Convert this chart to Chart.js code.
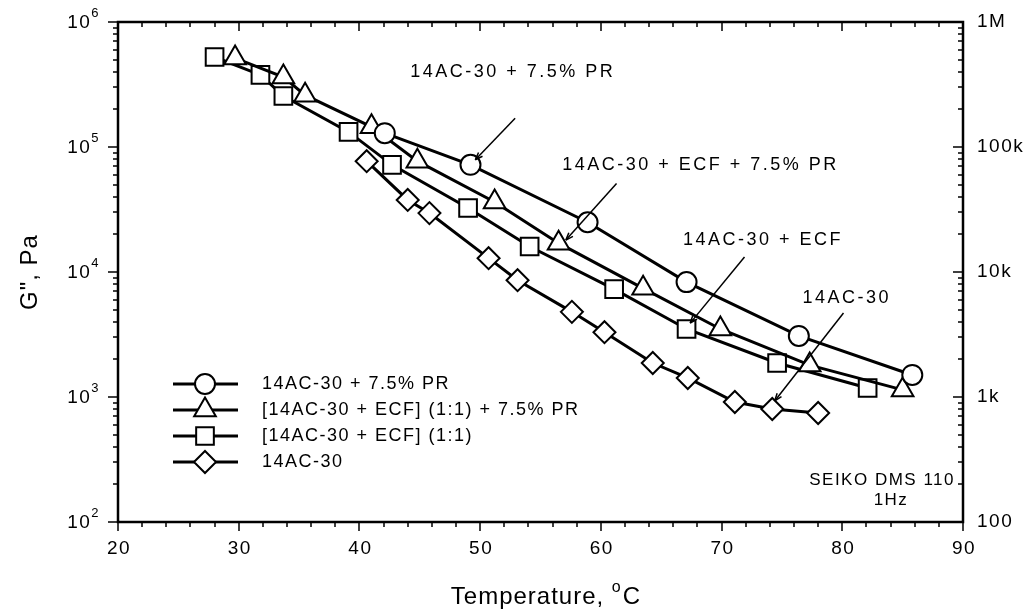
<!DOCTYPE html>
<html lang="en">
<head>
<meta charset="UTF-8">
<title>G'' vs Temperature</title>
<script src="https://cdn.jsdelivr.net/npm/chart.js@4"></script>
<style>
  html, body { margin: 0; padding: 0; background: #fff; }
</style>
</head>
<body>
<canvas id="chart" width="1036" height="613"></canvas>
<script>
// values: temperature (°C) vs G'' (Pa)
const prT   = [42.1, 49.2, 58.9, 67.1, 76.4, 85.8];
const prG   = [1.29e5, 7.2e4, 2.5e4, 8.3e3, 3.08e3, 1.5e3];

const ecfPrT = [29.7, 33.7, 35.5, 41.0, 44.8, 51.2, 56.5, 63.5, 69.9, 77.3, 85.0];
const ecfPrG = [5.15e5, 3.63e5, 2.6e5, 1.45e5, 7.7e4, 3.63e4, 1.7e4, 7.4e3, 3.5e3, 1.8e3, 1.14e3];

const ecfT = [28.0, 31.8, 33.7, 39.1, 42.7, 49.0, 54.1, 61.1, 67.1, 74.6, 82.1];
const ecfG = [5.25e5, 3.77e5, 2.56e5, 1.32e5, 7.2e4, 3.25e4, 1.6e4, 7.3e3, 3.5e3, 1.87e3, 1.18e3];

const baseT = [40.6, 44.0, 45.8, 50.7, 53.1, 57.6, 60.3, 64.3, 67.2, 71.1, 74.2, 78.0];
const baseG = [7.7e4, 3.77e4, 2.96e4, 1.29e4, 8.6e3, 4.8e3, 3.3e3, 1.87e3, 1.42e3, 912, 802, 745];

const seriesNames = [
  '14AC-30 + 7.5% PR',
  '[14AC-30 + ECF] (1:1) + 7.5% PR',
  '[14AC-30 + ECF] (1:1)',
  '14AC-30'
];
const xTicks = [20, 30, 40, 50, 60, 70, 80, 90];
const yExp = [2, 3, 4, 5, 6];
const rightLabels = ['100', '1k', '10k', '100k', '1M'];

// callouts: text, text anchor (T, G), arrow start (T, G), arrow end (T, G)
const notes = [
  { text: '14AC-30 + 7.5% PR',       at: [44.2, 4.0e5], from: [52.9, 1.7e5], to: [49.6, 7.9e4] },
  { text: '14AC-30 + ECF + 7.5% PR', at: [56.8, 7.2e4], from: [61.3, 5.1e4], to: [57.1, 1.8e4] },
  { text: '14AC-30 + ECF',           at: [66.8, 1.8e4], from: [71.9, 1.32e4], to: [67.4, 3.9e3] },
  { text: '14AC-30',                 at: [76.7, 6.2e3], from: [80.1, 4.7e3], to: [74.4, 930] }
];

function pts(xs, ys) { return xs.map((x, i) => ({ x: x, y: ys[i] })); }

const styles = [
  { pointStyle: 'circle',   pointRadius: 10 },
  { pointStyle: 'triangle', pointRadius: 12.5 },
  { pointStyle: 'rect',     pointRadius: 12.5 },
  { pointStyle: 'rectRot',  pointRadius: 11 }
];
const dataSets = [pts(prT, prG), pts(ecfPrT, ecfPrG), pts(ecfT, ecfG), pts(baseT, baseG)];

const FONT = '"Liberation Sans", Arial, sans-serif';

function arrow(ctx, x1, y1, x2, y2) {
  ctx.beginPath();
  ctx.moveTo(x1, y1);
  ctx.lineTo(x2, y2);
  ctx.stroke();
  const a = Math.atan2(y2 - y1, x2 - x1);
  const L = 8;
  ctx.beginPath();
  ctx.moveTo(x2, y2);
  ctx.lineTo(x2 - L * Math.cos(a - 0.35), y2 - L * Math.sin(a - 0.35));
  ctx.moveTo(x2, y2);
  ctx.lineTo(x2 - L * Math.cos(a + 0.35), y2 - L * Math.sin(a + 0.35));
  ctx.stroke();
}

const framePlugin = {
  id: 'frame',
  afterDraw(chart) {
    const ctx = chart.ctx;
    const xs = chart.scales.x, ys = chart.scales.y;
    const a = chart.chartArea;
    ctx.save();
    ctx.strokeStyle = '#000';
    ctx.fillStyle = '#000';
    ctx.lineWidth = 2.5;
    ctx.strokeRect(a.left, a.top, a.right - a.left, a.bottom - a.top);

    // x ticks: outward at bottom, inward at top
    ctx.lineWidth = 1.5;
    for (let v = 20; v <= 90; v += 2) {
      const px = Math.round(xs.getPixelForValue(v));
      const major = v % 10 === 0;
      const len = major ? 9 : 5;
      ctx.beginPath();
      ctx.moveTo(px, a.bottom); ctx.lineTo(px, a.bottom + len);
      ctx.moveTo(px, a.top); ctx.lineTo(px, a.top + len);
      ctx.stroke();
    }
    // y ticks: outward on left, inward on right
    for (let d = 2; d <= 6; d++) {
      for (let m = 1; m <= 9; m++) {
        if (d === 6 && m > 1) break;
        const py = Math.round(ys.getPixelForValue(m * Math.pow(10, d)));
        const len = m === 1 ? 10 : 5;
        ctx.beginPath();
        ctx.moveTo(a.left, py); ctx.lineTo(a.left - len, py);
        ctx.moveTo(a.right, py); ctx.lineTo(a.right - len, py);
        ctx.stroke();
      }
    }

    ctx.letterSpacing = '1.5px';
    // bottom labels
    ctx.font = '19px ' + FONT;
    ctx.textAlign = 'center';
    ctx.textBaseline = 'middle';
    xTicks.forEach(v => ctx.fillText(String(v), xs.getPixelForValue(v) + 1, a.bottom + 27));

    // left labels 10^n
    yExp.forEach(e => {
      const py = ys.getPixelForValue(Math.pow(10, e));
      ctx.font = '13px ' + FONT;
      const sw = ctx.measureText(String(e)).width;
      ctx.textAlign = 'right';
      ctx.fillText(String(e), a.left - 18, py - 9);
      ctx.font = '19px ' + FONT;
      ctx.fillText('10', a.left - 18 - sw, py + 1);
    });
    // right labels
    ctx.font = '19px ' + FONT;
    ctx.textAlign = 'left';
    rightLabels.forEach((t, i) => ctx.fillText(t, a.right + 14, ys.getPixelForValue(Math.pow(10, yExp[i]))));

    // axis titles
    ctx.letterSpacing = '1px';
    ctx.font = '24px ' + FONT;
    ctx.textAlign = 'center';
    ctx.save();
    ctx.translate(30, (a.top + a.bottom) / 2);
    ctx.rotate(-Math.PI / 2);
    ctx.fillText('G", Pa', 0, 0);
    ctx.restore();
    const tw = ctx.measureText('Temperature, C').width;
    const cx = (a.left + a.right) / 2;
    ctx.textAlign = 'left';
    ctx.fillText('Temperature, ', cx - tw / 2, 597);
    const w1 = ctx.measureText('Temperature, ').width;
    ctx.font = '16px ' + FONT;
    ctx.fillText('o', cx - tw / 2 + w1, 588);
    const w2 = ctx.measureText('o').width;
    ctx.font = '24px ' + FONT;
    ctx.fillText('C', cx - tw / 2 + w1 + w2 + 1, 597);

    // callouts
    ctx.font = '18px ' + FONT;
    ctx.letterSpacing = '2.5px';
    ctx.textAlign = 'left';
    ctx.lineWidth = 1.5;
    notes.forEach(n => {
      ctx.fillText(n.text, xs.getPixelForValue(n.at[0]), ys.getPixelForValue(n.at[1]));
      arrow(ctx, xs.getPixelForValue(n.from[0]), ys.getPixelForValue(n.from[1]),
                 xs.getPixelForValue(n.to[0]), ys.getPixelForValue(n.to[1]));
    });

    // instrument note
    ctx.font = '17px ' + FONT;
    ctx.letterSpacing = '1.5px';
    ctx.textAlign = 'right';
    ctx.fillText('SEIKO DMS 110', a.right - 8, 480);
    ctx.textAlign = 'center';
    ctx.fillText('1Hz', a.right - 72, 500);

    // legend
    ctx.letterSpacing = '1.5px';
    ctx.font = '18px ' + FONT;
    ctx.textAlign = 'left';
    const rows = [384, 410, 436, 462];
    rows.forEach((y, i) => {
      ctx.lineWidth = 3;
      ctx.strokeStyle = '#000';
      ctx.beginPath();
      ctx.moveTo(173, y); ctx.lineTo(238, y);
      ctx.stroke();
      ctx.fillStyle = '#fff';
      ctx.lineWidth = 2;
      Chart.helpers.drawPoint(ctx, { pointStyle: styles[i].pointStyle, radius: styles[i].pointRadius, rotation: 0, borderWidth: 2 }, 205, y);
      ctx.fillStyle = '#000';
      ctx.fillText(seriesNames[i], 262, y);
    });
    ctx.restore();
  }
};

new Chart(document.getElementById('chart'), {
  type: 'scatter',
  data: {
    datasets: dataSets.map((d, i) => ({
      label: seriesNames[i],
      data: d,
      showLine: true,
      borderColor: '#000',
      borderWidth: 3,
      backgroundColor: '#fff',
      pointBackgroundColor: '#fff',
      pointBorderColor: '#000',
      pointBorderWidth: 2,
      pointStyle: styles[i].pointStyle,
      pointRadius: styles[i].pointRadius,
      clip: false
    }))
  },
  options: {
    responsive: false,
    animation: false,
    devicePixelRatio: 1,
    layout: { padding: { left: 118, right: 73, top: 22, bottom: 91 } },
    plugins: { legend: { display: false }, tooltip: { enabled: false } },
    scales: {
      x: { type: 'linear', min: 20, max: 90, display: false },
      y: { type: 'logarithmic', min: 100, max: 1e6, display: false }
    }
  },
  plugins: [framePlugin]
});
</script>
</body>
</html>
